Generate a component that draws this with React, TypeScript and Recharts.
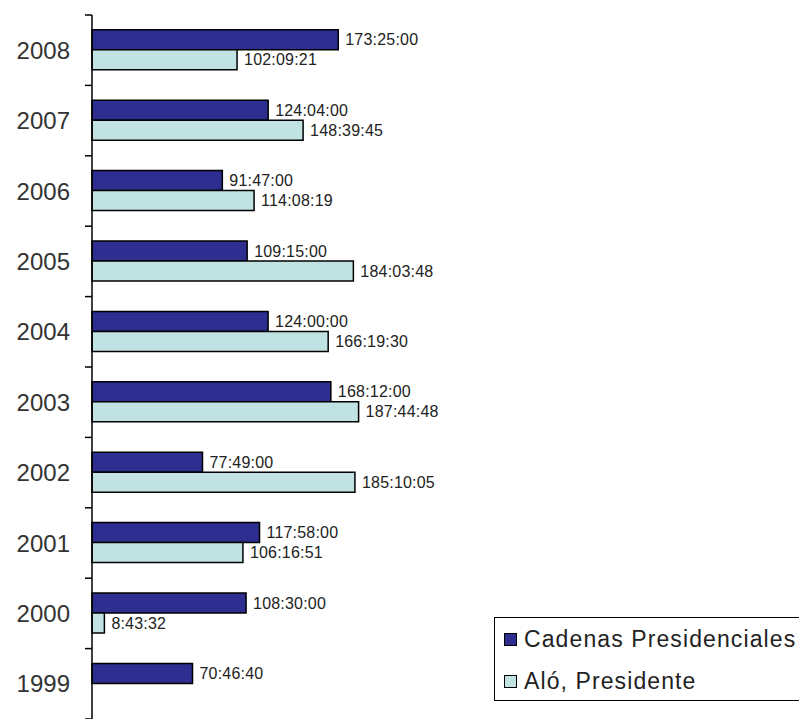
import React from "react";
import { BarChart, Bar, XAxis, YAxis, LabelList } from "recharts";

const years = ["2008", "2007", "2006", "2005", "2004", "2003", "2002", "2001", "2000", "1999"];
const cadenas = ["173:25:00", "124:04:00", "91:47:00", "109:15:00", "124:00:00", "168:12:00", "77:49:00", "117:58:00", "108:30:00", "70:46:40"];
const alo = ["102:09:21", "148:39:45", "114:08:19", "184:03:48", "166:19:30", "187:44:48", "185:10:05", "106:16:51", "8:43:32", ""];
const seriesNames = ["Cadenas Presidenciales", "Aló, Presidente"];

const toHours = (s: string) => {
  if (!s) return null;
  const [h, m, sec] = s.split(":").map(Number);
  return h + m / 60 + sec / 3600;
};

const data = years.map((y, i) => ({
  year: y,
  cadenas: toHours(cadenas[i]),
  alo: toHours(alo[i]),
  cadenasLabel: cadenas[i],
  aloLabel: alo[i],
}));

const W = 799;
const H = 719;
const TOP = 15;
const BOTTOM = 0;
const AXIS_X = 92;
const RIGHT = 139;
const BAND = (H - TOP - BOTTOM) / years.length;

const DARK = "#2E2E90";
const LIGHT = "#C0E2E2";
const FONT = "'Liberation Sans', Arial, sans-serif";

const YTick = (props: any) => {
  const { y, index } = props;
  return (
    <g>
      <text
        x={AXIS_X - 22}
        y={y}
        textAnchor="end"
        dominantBaseline="central"
        fontFamily={FONT}
        fontSize={24}
        fill="#333"
      >
        {props.payload.value}
      </text>
      <line x1={AXIS_X - 7} x2={AXIS_X} y1={y - BAND / 2} y2={y - BAND / 2} stroke="#000" strokeWidth={1.5} />
      {index === years.length - 1 && (
        <line x1={AXIS_X - 7} x2={AXIS_X} y1={y + BAND / 2} y2={y + BAND / 2} stroke="#000" strokeWidth={1.5} />
      )}
    </g>
  );
};

const LegendBox = () => (
  <div
    style={{
      position: "absolute",
      left: 494,
      top: 617,
      height: 84,
      border: "1.5px solid #000",
      padding: "0 0 0 9px",
      fontFamily: FONT,
      fontSize: 23,
      letterSpacing: 1.1,
      color: "#222",
      whiteSpace: "nowrap",
      background: "#fff",
      width: 320,
      boxSizing: "border-box",
      overflow: "visible",
    }}
  >
    {[DARK, LIGHT].map((c, i) => (
      <div key={i} style={{ display: "flex", alignItems: "center", height: 42 }}>
        <span
          style={{
            display: "inline-block",
            width: 11,
            height: 11,
            background: c,
            border: "1px solid #000",
            marginRight: 7,
          }}
        />
        {seriesNames[i]}
      </div>
    ))}
  </div>
);

export default function App() {
  return (
    <div style={{ position: "fixed", top: 0, left: 0, width: W, height: H, overflow: "hidden", background: "#fff" }}>
      <BarChart
        width={W}
        height={H}
        data={data}
        layout="vertical"
        margin={{ top: TOP, right: RIGHT, bottom: BOTTOM, left: 0 }}
        barCategoryGap="21%"
        barGap={0}
      >
        <XAxis type="number" domain={[0, 400]} hide />
        <YAxis
          type="category"
          dataKey="year"
          width={AXIS_X}
          axisLine={{ stroke: "#000", strokeWidth: 1.5 }}
          tickLine={false}
          tick={<YTick />}
          interval={0}
        />
        <Bar dataKey="cadenas" name={seriesNames[0]} fill={DARK} stroke="#000" strokeWidth={1.5} isAnimationActive={false}>
          <LabelList
            dataKey="cadenasLabel"
            position="right"
            offset={7}
            fill="#222"
            fontSize={16}
            fontFamily={FONT}
            style={{ letterSpacing: 0.2 }}
          />
        </Bar>
        <Bar dataKey="alo" name={seriesNames[1]} fill={LIGHT} stroke="#000" strokeWidth={1.5} isAnimationActive={false}>
          <LabelList
            dataKey="aloLabel"
            position="right"
            offset={7}
            fill="#222"
            fontSize={16}
            fontFamily={FONT}
            style={{ letterSpacing: 0.2 }}
          />
        </Bar>
      </BarChart>
      <LegendBox />
    </div>
  );
}
